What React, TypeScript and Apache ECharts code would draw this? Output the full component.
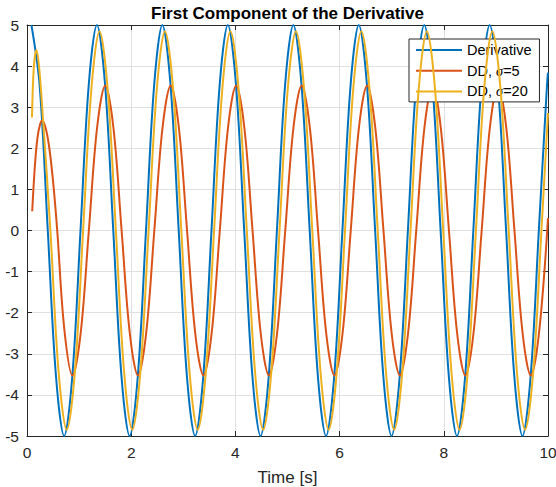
import React, { useEffect, useRef } from "react";
import * as echarts from "echarts";

// Time samples (s) and values
const timeDeriv = [
  0.085, 0.242, 0.399, 0.556, 0.713, 0.870, 1.027, 1.185,
  1.342, 1.499, 1.656, 1.813, 1.970, 2.127, 2.284, 2.441,
  2.598, 2.755, 2.912, 3.069, 3.227, 3.384, 3.541, 3.698,
  3.855, 4.012, 4.169, 4.326, 4.483, 4.640, 4.797, 4.954,
  5.112, 5.269, 5.426, 5.583, 5.740, 5.897, 6.054, 6.211,
  6.368, 6.525, 6.682, 6.839, 6.997, 7.154, 7.311, 7.468,
  7.625, 7.782, 7.939, 8.096, 8.253, 8.410, 8.567, 8.724,
  8.881, 9.039, 9.196, 9.353, 9.510, 9.667, 9.824, 9.981, 10,
];
const valDeriv = [
  5, 3.54, 0, -3.54, -5, -3.54, 0, 3.54,
  5, 3.54, 0, -3.54, -5, -3.54, 0, 3.54,
  5, 3.54, 0, -3.54, -5, -3.54, 0, 3.54,
  5, 3.54, 0, -3.54, -5, -3.54, 0, 3.54,
  5, 3.54, 0, -3.54, -5, -3.54, 0, 3.54,
  5, 3.54, 0, -3.54, -5, -3.54, 0, 3.54,
  5, 3.54, 0, -3.54, -5, -3.54, 0, 3.54,
  5, 3.54, 0, -3.54, -5, -3.54, 0, 3.54, 3.84,
];

const timeDD5 = [
  0.1, 0.15, 0.2, 0.25, 0.29, 0.35, 0.42, 0.5, 0.58, 0.716, 0.873, 1.030, 1.187, 1.345,
  1.502, 1.659, 1.816, 1.973, 2.130, 2.287, 2.444, 2.601,
  2.758, 2.915, 3.072, 3.229, 3.387, 3.544, 3.701, 3.858,
  4.015, 4.172, 4.329, 4.486, 4.643, 4.800, 4.957, 5.114,
  5.272, 5.429, 5.586, 5.743, 5.900, 6.057, 6.214, 6.371,
  6.528, 6.685, 6.842, 6.999, 7.157, 7.314, 7.471, 7.628,
  7.785, 7.942, 8.099, 8.256, 8.413, 8.570, 8.727, 8.884,
  9.041, 9.199, 9.356, 9.513, 9.670, 9.827, 10,
];
const valDD5 = [
  0.47, 1.55, 2.25, 2.58, 2.67, 2.53, 2.08, 1.2, 0, -2.4, -3.53, -2.5, 0, 2.5,
  3.53, 2.5, 0, -2.5, -3.53, -2.5, 0, 2.5,
  3.53, 2.5, 0, -2.5, -3.53, -2.5, 0, 2.5,
  3.53, 2.5, 0, -2.5, -3.53, -2.5, 0, 2.5,
  3.53, 2.5, 0, -2.5, -3.53, -2.5, 0, 2.5,
  3.53, 2.5, 0, -2.5, -3.53, -2.5, 0, 2.5,
  3.53, 2.5, 0, -2.5, -3.53, -2.5, 0, 2.5,
  3.53, 2.5, 0, -2.5, -3.53, -2.5, 0.3,
];

const timeDD20 = [
  0.096, 0.13, 0.18, 0.23, 0.292, 0.449, 0.606, 0.763, 0.920, 1.077, 1.235,
  1.392, 1.549, 1.706, 1.863, 2.020, 2.177, 2.334, 2.491,
  2.648, 2.805, 2.962, 3.119, 3.277, 3.434, 3.591, 3.748,
  3.905, 4.062, 4.219, 4.376, 4.533, 4.690, 4.847, 5.004,
  5.162, 5.319, 5.476, 5.633, 5.790, 5.947, 6.104, 6.261,
  6.418, 6.575, 6.732, 6.889, 7.047, 7.204, 7.361, 7.518,
  7.675, 7.832, 7.989, 8.146, 8.303, 8.460, 8.617, 8.774,
  8.931, 9.089, 9.246, 9.403, 9.560, 9.717, 9.874, 10,
];
const valDD20 = [
  2.75, 3.95, 4.39, 4.0, 3.0, 0, -3.43, -4.85, -3.43, 0, 3.43,
  4.85, 3.43, 0, -3.43, -4.85, -3.43, 0, 3.43,
  4.85, 3.43, 0, -3.43, -4.85, -3.43, 0, 3.43,
  4.85, 3.43, 0, -3.43, -4.85, -3.43, 0, 3.43,
  4.85, 3.43, 0, -3.43, -4.85, -3.43, 0, 3.43,
  4.85, 3.43, 0, -3.43, -4.85, -3.43, 0, 3.43,
  4.85, 3.43, 0, -3.43, -4.85, -3.43, 0, 3.43,
  4.85, 3.43, 0, -3.43, -4.85, -3.43, 0, 2.86,
];

const seriesNames = ["Derivative", "DD, σ=5", "DD, σ=20"];
const seriesColors = ["#0072BD", "#D95319", "#EDB120"];
const titleText = "First Component of the Derivative";
const xName = "Time [s]";

export default function App() {
  const ref = useRef<HTMLDivElement>(null);
  useEffect(() => {
    const chart = echarts.init(ref.current!, null, { renderer: "svg" });
    const pair = (t: number[], v: number[]) => t.map((x, i) => [x, v[i]]);
    const font = "'Liberation Sans', Arial, Helvetica, sans-serif";
    const axisColor = "#262626";
    const gridColor = "#e0e0e0";
    const tickCommon = { show: true, inside: true, length: 5, lineStyle: { color: axisColor, width: 1 } };
    const lineCommon = { show: true, lineStyle: { color: axisColor, width: 1 } };
    const datasets = [pair(timeDeriv, valDeriv), pair(timeDD5, valDD5), pair(timeDD20, valDD20)];
    chart.setOption({
      animation: false,
      backgroundColor: "#ffffff",
      grid: { left: 27, right: 8, top: 25, bottom: 51, containLabel: false, outerBoundsMode: "none" },
      graphic: [
        {
          type: "text",
          x: 287.5,
          y: 13,
          style: {
            text: titleText,
            align: "center",
            verticalAlign: "middle",
            fontFamily: font,
            fontSize: 17,
            fontWeight: "bold",
            fill: "#000",
          },
        },
      ],
      xAxis: [
        {
          type: "value",
          min: 0,
          max: 10,
          interval: 2,
          position: "bottom",
          name: xName,
          nameLocation: "middle",
          nameGap: 33,
          nameTextStyle: { fontFamily: font, fontSize: 17, color: axisColor },
          axisLine: { ...lineCommon, onZero: false },
          axisTick: tickCommon,
          axisLabel: { fontFamily: font, fontSize: 15.5, color: axisColor, margin: 8 },
          splitLine: { show: true, lineStyle: { color: gridColor, width: 1 } },
        },
        {
          type: "value",
          min: 0,
          max: 10,
          interval: 2,
          position: "top",
          axisLine: { ...lineCommon, onZero: false },
          axisTick: tickCommon,
          axisLabel: { show: false },
          splitLine: { show: false },
        },
      ],
      yAxis: [
        {
          type: "value",
          min: -5,
          max: 5,
          interval: 1,
          position: "left",
          axisLine: { ...lineCommon, onZero: false },
          axisTick: tickCommon,
          axisLabel: { fontFamily: font, fontSize: 15.5, color: axisColor, margin: 8 },
          splitLine: { show: true, lineStyle: { color: gridColor, width: 1 } },
        },
        {
          type: "value",
          min: -5,
          max: 5,
          interval: 1,
          position: "right",
          axisLine: { ...lineCommon, onZero: false },
          axisTick: tickCommon,
          axisLabel: { show: false },
          splitLine: { show: false },
        },
      ],
      legend: {
        orient: "vertical",
        left: 409,
        top: 39,
        itemWidth: 46,
        itemHeight: 14,
        itemGap: 5.7,
        padding: [3.5, 8, 3, 6],
        backgroundColor: "#ffffff",
        borderColor: axisColor,
        borderWidth: 1,
        borderRadius: 0,
        data: seriesNames,
        itemStyle: { opacity: 0 },
        formatter: (name: string) => name.replace("σ", "{s|σ}"),
        textStyle: {
          fontFamily: font,
          fontSize: 14.5,
          color: "#000",
          rich: {
            s: {
              fontFamily: "'Liberation Serif', 'DejaVu Serif', serif",
              fontStyle: "italic",
              fontSize: 14.5,
              color: "#000",
            },
          },
        },
      },
      series: seriesNames.map((name, i) => ({
        name,
        type: "line",
        xAxisIndex: 0,
        yAxisIndex: 0,
        data: datasets[i],
        smooth: 0.35,
        symbol: "none",
        showSymbol: false,
        color: seriesColors[i],
        lineStyle: { color: seriesColors[i], width: 2 },
        z: 2 + i,
      })),
    });
    return () => chart.dispose();
  }, []);
  return (
    <div
      ref={ref}
      style={{ position: "absolute", left: 0, top: 0, width: 556, height: 487 }}
    />
  );
}
